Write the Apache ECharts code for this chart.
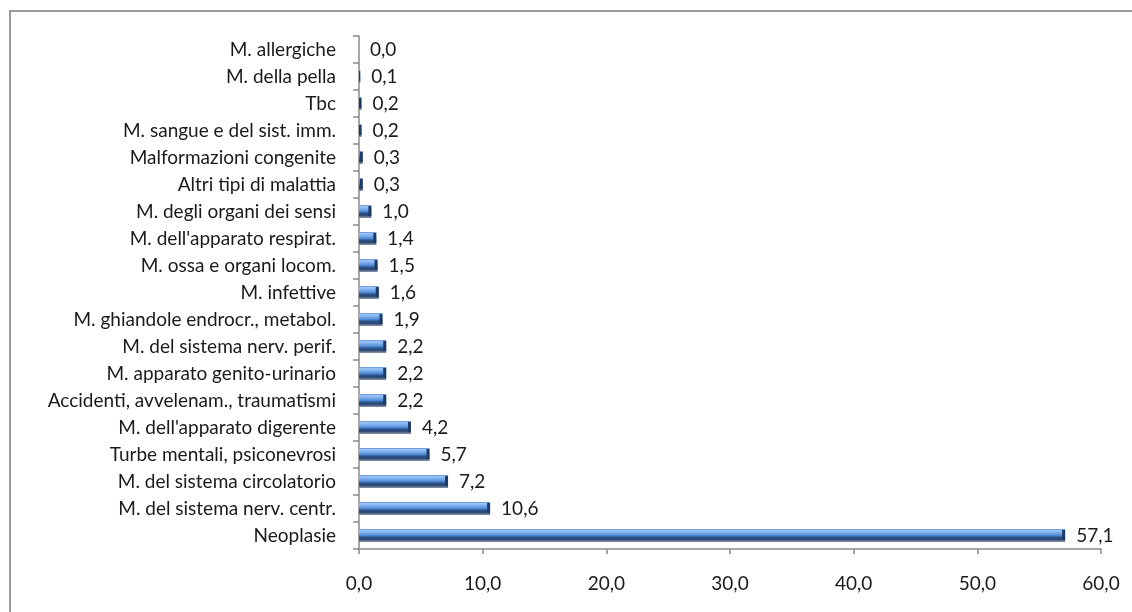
<!DOCTYPE html>
<html>
<head>
<meta charset="utf-8">
<script src="https://cdn.jsdelivr.net/npm/echarts@6/dist/echarts.min.js"></script>
<style>
  html, body { margin: 0; padding: 0; background: #fff; }
  #chart { width: 1132px; height: 612px; }
</style>
</head>
<body>
<div id="chart"></div>
<script>
// Causes, listed top to bottom
const categories = [
  'M. allergiche',
  'M. della pella',
  'Tbc',
  'M. sangue e del sist. imm.',
  'Malformazioni congenite',
  'Altri tipi di malattia',
  'M. degli organi dei sensi',
  "M. dell'apparato respirat.",
  'M. ossa e organi locom.',
  'M. infettive',
  'M. ghiandole endrocr., metabol.',
  'M. del sistema nerv. perif.',
  'M. apparato genito-urinario',
  'Accidenti, avvelenam., traumatismi',
  "M. dell'apparato digerente",
  'Turbe mentali, psiconevrosi',
  'M. del sistema circolatorio',
  'M. del sistema nerv. centr.',
  'Neoplasie'
];
// Percentage share of each cause
const values = [0.0, 0.1, 0.2, 0.2, 0.3, 0.3, 1.0, 1.4, 1.5, 1.6, 1.9, 2.2, 2.2, 2.2, 4.2, 5.7, 7.2, 10.6, 57.1];
// Value axis
const axisMin = 0;
const axisMax = 60;
const axisStep = 10;

const fmt = v => v.toFixed(1).replace('.', ',');
const FONT = 'Lato';
const FONT_SIZE = 19;
const TEXT = '#1a1a1a';
const AXIS_GRAY = '#8a8a8a';

// bevelled look: light top edge, blue body, dark lower edge, grey shadow
const barFill = new echarts.graphic.LinearGradient(0, 0, 0, 1, [
  { offset: 0.00, color: '#5c8fd6' },
  { offset: 0.12, color: '#9cc3f3' },
  { offset: 0.30, color: '#78adef' },
  { offset: 0.50, color: '#4f87d0' },
  { offset: 0.62, color: '#2d5690' },
  { offset: 0.78, color: '#24446f' },
  { offset: 0.88, color: '#56698a' },
  { offset: 1.00, color: '#8b97aa' }
]);

const chart = echarts.init(document.getElementById('chart'), null, { renderer: 'canvas' });
chart.setOption({
  animation: false,
  textStyle: { fontFamily: FONT },
  graphic: [{
    type: 'rect',
    shape: { x: 10, y: 11, width: 1140, height: 640 },
    style: { fill: 'none', stroke: '#9a9a9a', lineWidth: 2 },
    silent: true,
    z: -1
  }],
  grid: { left: 359, right: 31, top: 36, bottom: 63, containLabel: false },
  xAxis: {
    type: 'value',
    min: axisMin,
    max: axisMax,
    interval: axisStep,
    splitLine: { show: false },
    axisLine: { show: true, lineStyle: { color: AXIS_GRAY, width: 1.5 } },
    axisTick: { show: true, length: 5, lineStyle: { color: AXIS_GRAY, width: 1.5 } },
    axisLabel: { formatter: v => fmt(v), color: TEXT, fontSize: FONT_SIZE, fontFamily: FONT, margin: 25 }
  },
  yAxis: {
    type: 'category',
    data: categories,
    inverse: true,
    axisLine: { show: true, lineStyle: { color: AXIS_GRAY, width: 1.5 } },
    axisTick: { show: true, length: 6, alignWithLabel: false, lineStyle: { color: AXIS_GRAY, width: 1.5 } },
    axisLabel: { color: TEXT, fontSize: FONT_SIZE, fontFamily: FONT, margin: 23 }
  },
  series: [{
    type: 'bar',
    data: values,
    barWidth: 13,
    itemStyle: { color: barFill },
    label: {
      show: true,
      position: 'right',
      distance: 11,
      formatter: p => fmt(p.value),
      color: TEXT,
      fontSize: FONT_SIZE,
      fontFamily: FONT
    },
    z: 2
  }, {
    // dark end cap on each bar
    type: 'custom',
    data: values.map((v, i) => [v, i]),
    encode: { x: 0, y: 1 },
    renderItem: (params, api) => {
      const v = api.value(0);
      if (v <= 0) return null;
      const end = api.coord([v, api.value(1)]);
      const start = api.coord([0, api.value(1)]);
      const w = Math.min(3, end[0] - start[0]);
      return {
        type: 'rect',
        shape: { x: end[0] - w, y: end[1] - 5.5, width: w, height: 10 },
        style: { fill: '#1d3b66' }
      };
    },
    silent: true,
    z: 3
  }]
});
</script>
</body>
</html>
